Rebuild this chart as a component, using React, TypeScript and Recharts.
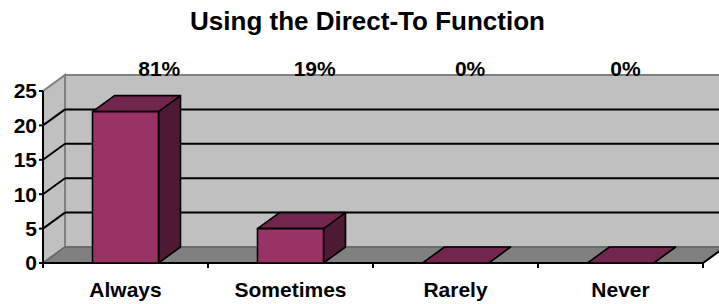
import React from 'react';
import { BarChart, Bar, XAxis, YAxis, CartesianGrid } from 'recharts';

const CATEGORIES = ['Always', 'Sometimes', 'Rarely', 'Never'];
const COUNTS = [22, 5, 0, 0];
const PERCENT_LABELS = ['81%', '19%', '0%', '0%'];
const Y_TICKS = [0, 5, 10, 15, 20, 25];

const data = CATEGORIES.map((name, i) => ({
  name,
  count: COUNTS[i],
  pct: PERCENT_LABELS[i],
}));

// depth of the fake 3D box
const DX = 22;
const DY = -16;
const FONT = '"Liberation Sans", Arial, Helvetica, sans-serif';

const WALL = '#C0C0C0';
const FLOOR = '#808080';
const EDGE = '#808080';

// back wall, side wall and floor (drawn once, from the first grid line)
const renderWalls = (p: any) => {
  if (p.index !== 0) return <g key={p.key} />;
  const { x, y, width, height } = p;
  const bottom = y + height;
  const right = x + width;
  const n = CATEGORIES.length;
  const step = width / n;
  return (
    <g key={p.key}>
      <rect x={x + DX} y={y + DY} width={width + 10} height={height} fill={WALL} stroke={EDGE} strokeWidth={2} />
      <polygon
        points={`${x},${y} ${x + DX},${y + DY} ${x + DX},${bottom + DY} ${x},${bottom}`}
        fill={WALL}
        stroke={EDGE}
        strokeWidth={2}
      />
      <polygon
        points={`${x},${bottom} ${x + DX},${bottom + DY} ${right + DX},${bottom + DY} ${right},${bottom}`}
        fill={FLOOR}
        stroke="#666"
        strokeWidth={1.5}
      />
      <line x1={right} y1={bottom} x2={right + DX} y2={bottom + DY} stroke="#000" strokeWidth={2} />
      <line x1={x} y1={bottom} x2={right} y2={bottom} stroke="#000" strokeWidth={2} />
      {Array.from({ length: n + 1 }, (_, i) => (
        <line key={i} x1={x + i * step} y1={bottom} x2={x + i * step} y2={bottom + 5} stroke="#000" strokeWidth={2} />
      ))}
    </g>
  );
};

// gridlines: slanted on the side wall, straight on the back wall
const renderGridLine = (p: any) => {
  const { x1, y1, x2, y, height, key } = p;
  if (y1 <= y + 0.5 || y1 >= y + height - 0.5) return <g key={key} />;
  return (
    <g key={key}>
      <line x1={x1} y1={y1} x2={x1 + DX} y2={y1 + DY} stroke="#000" strokeWidth={2} />
      <line x1={x1 + DX} y1={y1 + DY} x2={x2 + DX + 10} y2={y1 + DY} stroke="#000" strokeWidth={2} />
    </g>
  );
};

const Box3D = (p: any) => {
  const { x, y, width: w, height: h } = p;
  const s = { stroke: '#000', strokeWidth: 1.6, strokeLinejoin: 'round' as const };
  return (
    <g>
      <polygon points={`${x + w},${y} ${x + w + DX},${y + DY} ${x + w + DX},${y + h + DY} ${x + w},${y + h}`} fill="#4D1933" {...s} />
      <polygon points={`${x},${y} ${x + DX},${y + DY} ${x + w + DX},${y + DY} ${x + w},${y}`} fill="#73264D" {...s} />
      {h > 0 && <rect x={x} y={y} width={w} height={h} fill="#993366" {...s} />}
    </g>
  );
};

// percentage labels sit on the top edge of the back wall
const PctLabel = (p: any) => {
  const { x, y, width, index } = p;
  const cx = x + width / 2;
  return (
    <text
      key={`pct-${index}`}
      x={0.942 * cx + 41}
      y={y + DY + 1}
      textAnchor="middle"
      fontFamily={FONT}
      fontWeight="bold"
      fontSize={21}
      fill="#000"
    >
      {PERCENT_LABELS[index]}
    </text>
  );
};

export default function App() {
  return (
    <div style={{ position: 'absolute', left: 0, top: 0, width: 719, height: 304, background: '#fff' }}>
      <div
        style={{
          position: 'absolute',
          left: 8,
          width: 719,
          top: 6,
          textAlign: 'center',
          fontFamily: FONT,
          fontWeight: 'bold',
          fontSize: 26,
          lineHeight: '30px',
        }}
      >
        Using the Direct-To Function
      </div>
      <BarChart
        width={719}
        height={304}
        data={data}
        margin={{ top: 91, right: 16, bottom: 0, left: 0 }}
        barCategoryGap="30%"
      >
        <CartesianGrid vertical={false} horizontal={renderWalls} />
        <CartesianGrid vertical={false} horizontal={renderGridLine} />
        <XAxis
          dataKey="name"
          axisLine={false}
          tickLine={false}
          tickSize={0}
          tickMargin={19}
          height={41}
          interval={0}
          tick={{ fill: '#000', fontFamily: FONT, fontWeight: 'bold', fontSize: 21 }}
        />
        <YAxis
          domain={[0, 25]}
          ticks={Y_TICKS}
          interval={0}
          width={43}
          axisLine={{ stroke: '#000', strokeWidth: 2 }}
          tickLine={{ stroke: '#000', strokeWidth: 2 }}
          tickSize={4}
          tickMargin={2}
          tick={{ fill: '#000', fontFamily: FONT, fontWeight: 'bold', fontSize: 21 }}
        />
        <Bar
          dataKey="count"
          isAnimationActive={false}
          shape={Box3D}
          background={PctLabel}
        />
      </BarChart>
    </div>
  );
}
